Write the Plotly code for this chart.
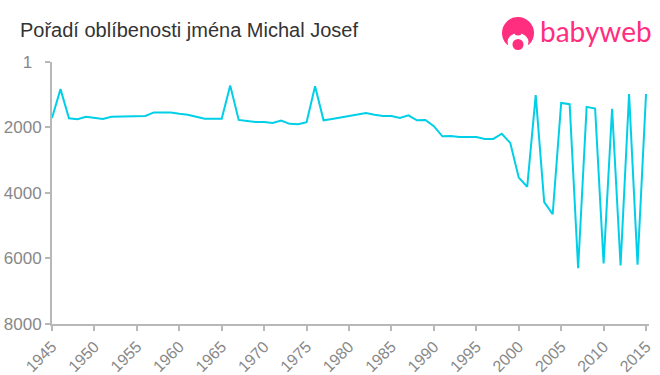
import plotly.graph_objects as go

years = list(range(1945, 2016))
ranks = [1710, 830, 1720, 1750, 1670, 1700, 1740, 1670, 1670, 1650, 1650, 1650, 1540, 1540, 1540, 1580,
         1610, 1670, 1730, 1730, 1730, 720, 1770, 1800, 1830, 1830, 1860, 1790, 1890, 1900, 1840, 740,
         1780, 1740, 1700, 1650, 1620, 1560, 1610, 1650, 1650, 1710, 1630, 1780, 1770, 1960, 2270, 2260,
         2290, 2290, 2290, 2350, 2350, 2190, 2470, 3530, 3810, 1010, 4280, 4650, 1250, 1290, 6300, 1370,
         1420, 6150, 1430, 6210, 980, 6190, 980]
x_ticks = list(range(1945, 2016, 5))
y_ticks = [1, 2000, 4000, 6000, 8000]
y_labels = ["1\u00a0\u00a0", "2000", "4000", "6000", "8000"]
title_text = "Pořadí oblíbenosti jména Michal Josef"
logo_text = "babyweb"

W, H = 660, 375
L, R, T, B = 52, 11, 62, 51
PINK = "#ff2e7e"


def px(x):
    return (x - L) / (W - L - R)


def py(y):
    return 1 - (y - T) / (H - T - B)


def oval(cx, cy, rx, ry, color):
    return dict(type="circle", xref="paper", yref="paper", layer="above",
                x0=px(cx - rx), x1=px(cx + rx), y0=py(cy + ry), y1=py(cy - ry),
                fillcolor=color, line=dict(width=0))


fig = go.Figure(go.Scatter(x=years, y=ranks, mode="lines", cliponaxis=False,
                           line=dict(color="#00cfe8", width=2), hoverinfo="skip"))

fig.update_layout(
    width=W, height=H, autosize=False,
    margin=dict(l=L, r=R, t=T, b=B, autoexpand=False),
    paper_bgcolor="white", plot_bgcolor="white", showlegend=False,
    font=dict(family="Liberation Sans, Arial, sans-serif"),
    annotations=[
        dict(text=title_text, xref="paper", yref="paper", x=px(18), y=py(30),
             xanchor="left", yanchor="middle", showarrow=False,
             font=dict(size=20, color="#333333")),
        dict(text=logo_text, xref="paper", yref="paper", x=px(538), y=py(31),
             xanchor="left", yanchor="middle", showarrow=False,
             font=dict(size=28, color=PINK, family="Lato, Noto Sans, sans-serif")),
    ],
    shapes=[
        oval(518, 33, 16, 16, PINK),
        oval(518, 51, 17, 8, "white"),
        oval(518, 42, 10.5, 9, "white"),
        oval(518, 33, 3.5, 2.5, PINK),
        oval(518, 44.5, 5.5, 5.5, PINK),
    ],
)
fig.update_xaxes(range=[1945, 2015.35], tickvals=x_ticks, tickangle=-45, ticks="outside", automargin=False,
                 ticklen=5, tickwidth=2, tickcolor="#b8b8b8", showgrid=False, zeroline=False,
                 showline=True, linecolor="#b8b8b8", linewidth=2,
                 tickfont=dict(size=16, color="#888888"))
fig.update_yaxes(range=[8000, 1], tickvals=y_ticks, ticktext=y_labels, ticks="outside", automargin=False,
                 ticklen=5, tickwidth=2, tickcolor="#b8b8b8", showgrid=False, zeroline=False,
                 showline=True, linecolor="#b8b8b8", linewidth=2,
                 tickfont=dict(size=17, color="#888888"))

fig.write_html("out.html", config=dict(displayModeBar=False),
               post_script="document.body.style.margin='0';")
